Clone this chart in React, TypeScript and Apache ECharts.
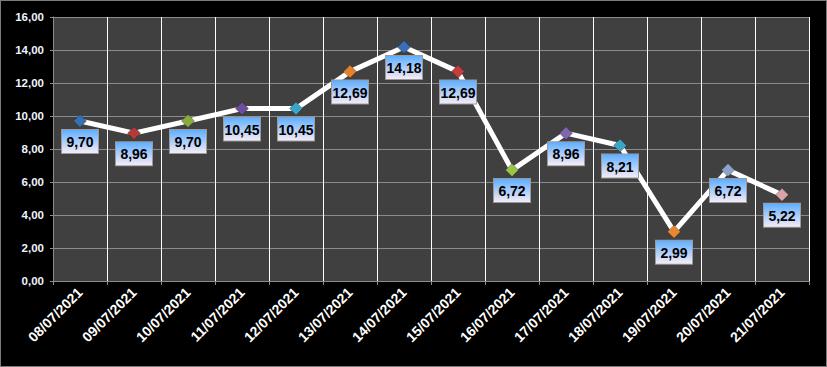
import React, { useEffect, useRef } from "react";
import * as echarts from "echarts";

const categories = [
  "08/07/2021", "09/07/2021", "10/07/2021", "11/07/2021", "12/07/2021", "13/07/2021", "14/07/2021",
  "15/07/2021", "16/07/2021", "17/07/2021", "18/07/2021", "19/07/2021", "20/07/2021", "21/07/2021",
];
const values = [9.7, 8.96, 9.7, 10.45, 10.45, 12.69, 14.18, 12.69, 6.72, 8.96, 8.21, 2.99, 6.72, 5.22];
const markerColors = [
  "#3b6fb3", "#b23a3a", "#8aab3e", "#6b4f9c", "#3aa6c6", "#e3812f", "#3a6fb8",
  "#c23d3d", "#9cc24a", "#8066ac", "#3ea4c4", "#e8892e", "#8ea3c8", "#d9a3a8",
];

const fmt = (v: number) => v.toFixed(2).replace(".", ",");

export default function App() {
  const ref = useRef<HTMLDivElement>(null);
  useEffect(() => {
    document.body.style.margin = "0";
    const chart = echarts.init(ref.current!, null, { renderer: "svg" });
    const labelBg = new echarts.graphic.LinearGradient(0, 0, 0, 1, [
      { offset: 0, color: "#5eaeff" },
      { offset: 1, color: "#f6ecf6" },
    ]);
    chart.setOption({
      animation: false,
      backgroundColor: "#000000",
      grid: { left: 52, right: 17, top: 16, bottom: 85, containLabel: false, show: true, backgroundColor: "#404040", borderWidth: 0 },
      xAxis: {
        type: "category",
        data: categories,
        boundaryGap: true,
        axisLine: { show: true, lineStyle: { color: "#8c8c8c", width: 1 } },
        axisTick: { show: true, alignWithLabel: false, length: 4, lineStyle: { color: "#8c8c8c" } },
        splitLine: { show: true, lineStyle: { color: "#ffffff", width: 1 } },
        axisLabel: {
          rotate: 45,
          interval: 0,
          color: "#ffffff",
          fontWeight: "bold",
          fontSize: 14,
          fontFamily: "Liberation Sans, Arial, sans-serif",
          margin: 9,
        },
      },
      yAxis: {
        type: "value",
        min: 0,
        max: 16,
        interval: 2,
        axisLine: { show: true, lineStyle: { color: "#8c8c8c", width: 1 } },
        axisTick: { show: true, length: 3, lineStyle: { color: "#8c8c8c" } },
        splitLine: { show: true, lineStyle: { color: "#8c8c8c", width: 1 } },
        axisLabel: {
          color: "#eef4ff",
          fontWeight: "bold",
          fontSize: 11.5,
          fontFamily: "Liberation Sans, Arial, sans-serif",
          margin: 9,
          formatter: (v: number) => fmt(v),
        },
      },
      series: [
        {
          type: "line",
          data: values.map((v, i) => ({
            value: v,
            itemStyle: { color: markerColors[i], borderColor: "rgba(0,0,0,0.25)", borderWidth: 1 },
          })),
          symbol: "diamond",
          symbolSize: 13,
          showAllSymbol: true,
          lineStyle: { color: "#ffffff", width: 5 },
          label: {
            show: true,
            position: "bottom",
            distance: 2,
            formatter: (p: any) => fmt(p.value),
            color: "#000000",
            fontWeight: "bold",
            fontSize: 14,
            fontFamily: "Liberation Sans, Arial, sans-serif",
            backgroundColor: labelBg,
            borderColor: "#9a9a9a",
            borderWidth: 1,
            width: 30,
            height: 16,
            lineHeight: 16,
            align: "center",
            padding: [4, 3, 3, 3],
          },
          z: 3,
        },
      ],
    });
    return () => chart.dispose();
  }, []);
  return (
    <div
      ref={ref}
      style={{ width: 827, height: 367, boxSizing: "border-box", border: "1px solid #7a7a7a" }}
    />
  );
}
